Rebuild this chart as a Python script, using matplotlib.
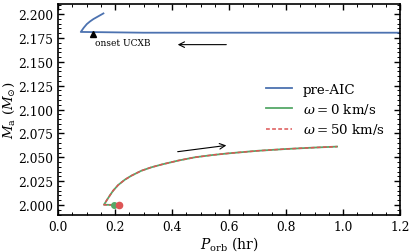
import matplotlib
matplotlib.use("Agg")
import matplotlib.pyplot as plt
from matplotlib.ticker import MultipleLocator, FormatStrFormatter

plt.rcParams['font.family'] = 'DejaVu Serif'
plt.rcParams['mathtext.fontset'] = 'dejavuserif'

# pre-AIC track
pre_p = [1.25, 0.60, 0.30, 0.0796, 0.090, 0.1007, 0.112, 0.124, 0.140, 0.159]
pre_m = [2.1805, 2.1805, 2.1805, 2.1813, 2.1857, 2.1895, 2.1923, 2.1948, 2.1975, 2.2007]

# post-AIC tracks
post_p = [0.214, 0.161, 0.168, 0.175, 0.184, 0.193, 0.2105, 0.234, 0.257, 0.292, 0.327,
          0.364, 0.422, 0.480, 0.545, 0.60, 0.70, 0.80, 0.90, 0.979]
post_m = [2.0000, 2.0003, 2.0037, 2.0070, 2.0111, 2.0150, 2.0209, 2.0265, 2.0307, 2.0359, 2.0395,
          2.0425, 2.0466, 2.0500, 2.0525, 2.0542, 2.0568, 2.0587, 2.0602, 2.0612]

onset_p, onset_m = 0.124, 2.179
dot_green = (0.197, 2.0)
dot_red = (0.214, 2.0)

blue = '#4c72b0'
green = '#55a868'
red = '#dd5555'

fig = plt.figure(figsize=(4.15, 2.53), dpi=100)
ax = fig.add_axes([0.14, 0.146, 0.824, 0.834])

ax.plot(pre_p, pre_m, color=blue, lw=1.3, label='pre-AIC')
ax.plot(post_p, post_m, color=green, lw=1.3, label=r'$\omega = 0$ km/s')
ax.plot(post_p, post_m, color=red, lw=1.1, ls='--', dashes=(2.5, 1.5), label=r'$\omega = 50$ km/s')
ax.plot([dot_green[0]], [dot_green[1]], 'o', color=green, ms=4)
ax.plot([dot_red[0]], [dot_red[1]], 'o', color=red, ms=4.5)

ax.plot([onset_p], [onset_m], '^', color='black', ms=4)
ax.text(0.128, 2.1705, 'onset UCXB', fontsize=6.5, va='center', ha='left')

ax.annotate('', xy=(0.41, 2.168), xytext=(0.60, 2.168),
            arrowprops=dict(arrowstyle='->', color='black', lw=0.8))
ax.annotate('', xy=(0.60, 2.0628), xytext=(0.41, 2.0555),
            arrowprops=dict(arrowstyle='->', color='black', lw=0.8))

ax.set_xlim(0, 1.2)
ax.set_ylim(1.9895, 2.2105)
ax.xaxis.set_major_locator(MultipleLocator(0.2))
ax.xaxis.set_minor_locator(MultipleLocator(0.05))
ax.yaxis.set_major_locator(MultipleLocator(0.025))
ax.yaxis.set_minor_locator(MultipleLocator(0.005))
ax.yaxis.set_major_formatter(FormatStrFormatter('%.3f'))
ax.tick_params(which='both', direction='in', top=True, right=True, labelsize=8.8)
ax.tick_params(which='major', length=4, width=1)
ax.tick_params(which='minor', length=2, width=0.7)
for s in ax.spines.values():
    s.set_linewidth(1.2)

ax.set_xlabel(r'$P_{\rm orb}$ (hr)', fontsize=10, labelpad=1)
ax.set_ylabel(r'$M_{\rm a}$ ($M_{\odot}$)', fontsize=9.6, labelpad=0.5)

ax.legend(loc='center left', bbox_to_anchor=(0.572, 0.50), frameon=False, fontsize=9.6,
          handlelength=2.0, handletextpad=0.8, labelspacing=0.4)

fig.savefig('out.png', dpi=100)
